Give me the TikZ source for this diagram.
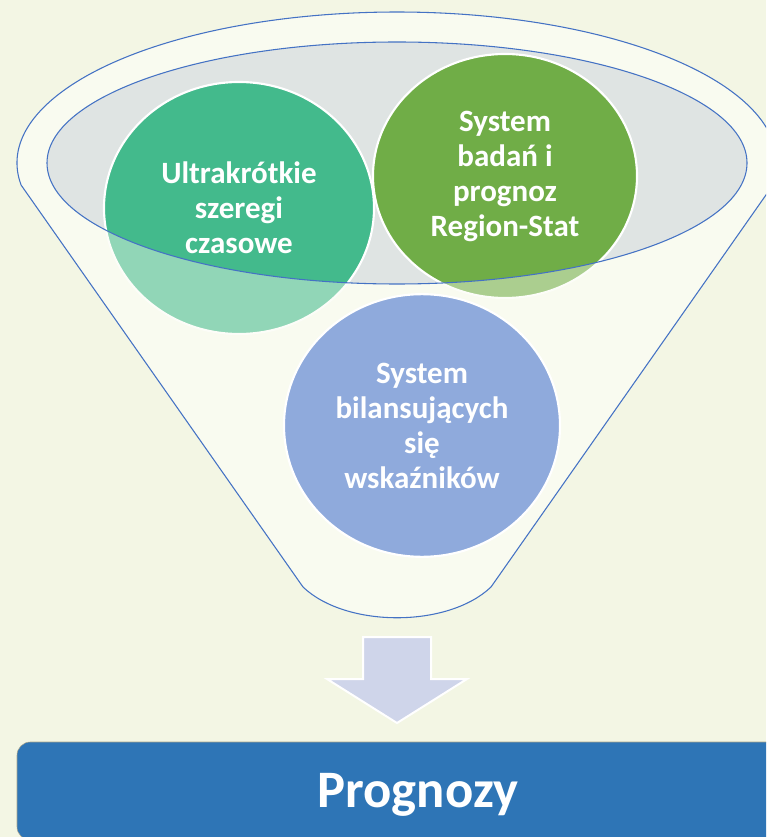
\documentclass[tikz,border=0pt]{standalone}
\usepackage{fontspec}
\setmainfont{Carlito}
\usetikzlibrary{shapes.geometric}
\definecolor{tlo}{HTML}{F3F6E4}
\definecolor{lejek}{HTML}{F9FBF0}
\definecolor{lejekLinia}{HTML}{4472C4}
\definecolor{szary}{HTML}{DFE4E3}
\definecolor{morski}{HTML}{43BA8C}
\definecolor{zielony}{HTML}{70AD47}
\definecolor{niebieski}{HTML}{8FAADC}
\definecolor{strzalka}{HTML}{CFD5EA}
\definecolor{pasek}{HTML}{2E75B6}
\definecolor{pasekLinia}{HTML}{A8A48C}
\tikzset{
  kolo/.style={ellipse, draw=white, line width=1.6pt, text=white, inner sep=0pt,
    align=center, font=\bfseries\fontsize{23.25pt}{26.25pt}\selectfont},
}
\begin{document}
\begin{tikzpicture}[x=0.75pt,y=-0.75pt]
					% 设置漏斗的尺寸
					\def\srodekX{397}
					\def\srodekY{163}
					\def\zewRx{380}
					\def\zewRy{151}
					\def\wewRx{350}
					\def\wewRy{121}
				
					\useasboundingbox (0,0) rectangle (766,837);
					\clip (0,0) rectangle (766,837);
					\fill[tlo] (0,0) rectangle (766,837);
				
					% 绘制漏斗主体
					\fill[lejek] (21.1,185.06) arc[start angle=171.6, end angle=368.4, x radius=\zewRx, y radius=\zewRy]
						-- (491,587) .. controls (448,628) and (346,628) .. (303,587) -- cycle;
					\fill[szary] (\srodekX,\srodekY) ellipse[x radius=\wewRx, y radius=\wewRy];
				
					% 绘制两个上面的圆
					\node[kolo, fill=morski, minimum width=202.5pt, minimum height=189pt] (ultra) at (239,208) {Ultrakrótkie\\szeregi\\czasowe};
					\node[kolo, fill=zielony, minimum width=198pt, minimum height=183pt] (region) at (505,176) {System\\badań i\\prognoz\\Region-Stat};
				
					% 半透明的漏斗壁和轮廓
					\path[fill=lejek, fill opacity=0.43, draw=lejekLinia, line width=0.8pt, even odd rule]
						(21.1,185.06) arc[start angle=171.6, end angle=368.4, x radius=\zewRx, y radius=\zewRy]
						-- (491,587) .. controls (448,628) and (346,628) .. (303,587) -- cycle
						(\srodekX,\srodekY) ellipse[x radius=\wewRx, y radius=\wewRy];
				
					% 绘制第三个圆
					\node[kolo, fill=niebieski, minimum width=207pt, minimum height=197pt] (bilans) at (422,425.5) {System\\bilansujących\\się\\wskaźników};
				
					% 绘制箭头
					\draw[fill=strzalka, draw=white, line width=1.5pt] (363,637) -- (431,637) -- (431,679) -- (467,679)
						-- (397,723) -- (327,679) -- (363,679) -- cycle;
				
					% 绘制结果
					\node[draw=pasekLinia, fill=pasek, rounded corners=10pt, minimum width=601.5pt, minimum height=73.5pt,
						text=white, font=\bfseries\fontsize{39.5pt}{45pt}\selectfont, text height=25pt, text depth=0pt]
						(prognozy) at (418,791) {Prognozy};
\end{tikzpicture}
\end{document}
